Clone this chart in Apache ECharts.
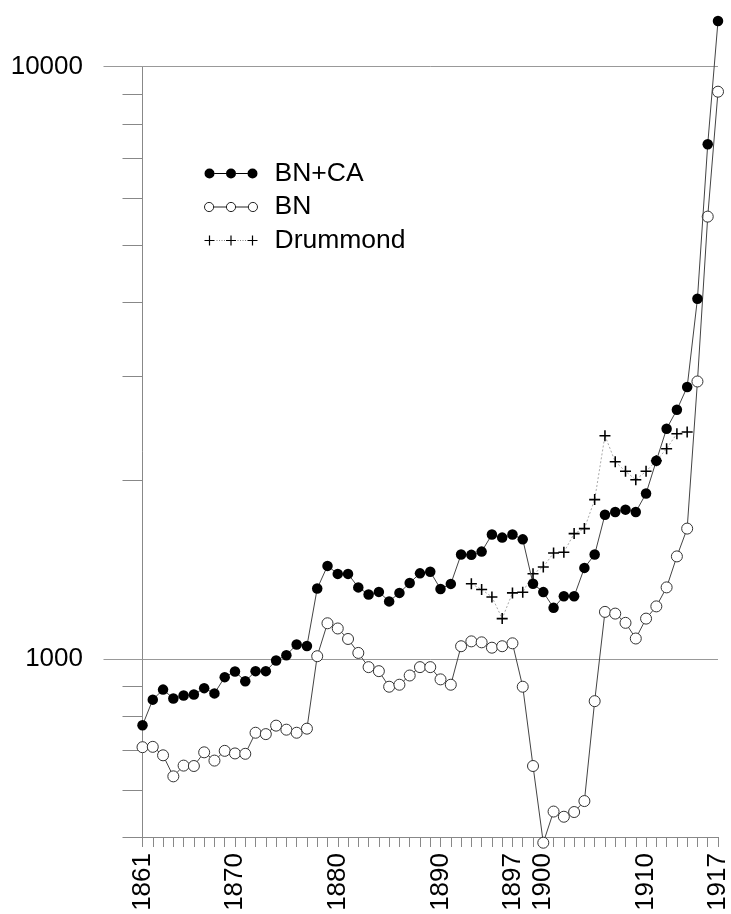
<!DOCTYPE html>
<html>
<head>
<meta charset="utf-8">
<script src="https://cdn.jsdelivr.net/npm/echarts@6/dist/echarts.min.js"></script>
<style>
html,body{margin:0;padding:0;background:#fff;}
#chart{width:731px;height:914px;}
</style>
</head>
<body>
<div id="chart"></div>
<script>
const years = ['1861','1862','1863','1864','1865','1866','1867','1868','1869','1870',
  '1871','1872','1873','1874','1875','1876','1877','1878','1879','1880',
  '1881','1882','1883','1884','1885','1886','1887','1888','1889','1890',
  '1891','1892','1893','1894','1895','1896','1897','1898','1899','1900',
  '1901','1902','1903','1904','1905','1906','1907','1908','1909','1910',
  '1911','1912','1913','1914','1915','1916','1917'];

const labelYears = ['1861','1870','1880','1890','1897','1900','1910','1917'];

const bnca = [772, 853, 887, 857, 867, 870, 892, 874, 931, 952,
  916, 953, 953, 993, 1014, 1057, 1051, 1314, 1435, 1391,
  1391, 1320, 1284, 1297, 1250, 1292, 1343, 1394, 1403, 1312,
  1338, 1500, 1498, 1517, 1621, 1602, 1621, 1591, 1339, 1296,
  1219, 1275, 1275, 1424, 1500, 1751, 1770, 1786, 1770, 1902,
  2160, 2447, 2633, 2877, 4055, 7396, 11944];

const bn = [709, 710, 687, 633, 660, 659, 695, 673, 699, 692,
  691, 750, 746, 771, 759, 750, 762, 1010, 1148, 1125,
  1080, 1023, 968, 953, 897, 904, 937, 968, 968, 923,
  904, 1050, 1070, 1066, 1044, 1050, 1062, 897, 659, 489,
  552, 541, 551, 575, 848, 1200, 1192, 1150, 1082, 1169,
  1226, 1320, 1489, 1659, 2940, 5582, 9074];

const drummondYears = ['1893','1894','1895','1896','1897','1898','1899','1900','1901','1902',
  '1903','1904','1905','1906','1907','1908','1909','1910','1911','1912','1913','1914'];
const drummond = [1339, 1309, 1272, 1169, 1292, 1295, 1392, 1429, 1509, 1513,
  1627, 1659, 1857, 2381, 2152, 2073, 2006, 2073, 2160, 2264, 2400, 2415];

const majorTicks = [1000, 10000];
const minorTicks = [500, 600, 700, 800, 900, 2000, 3000, 4000, 5000, 6000, 7000, 8000, 9000];

const plusPath = 'path://M4.3,0H5.7V4.3H10V5.7H5.7V10H4.3V5.7H0V4.3H4.3Z';
const legendFilled = 'path://M0,5a5,5 0 1,0 10,0a5,5 0 1,0 -10,0Z M21.5,5a5,5 0 1,0 10,0a5,5 0 1,0 -10,0Z M43,5a5,5 0 1,0 10,0a5,5 0 1,0 -10,0Z M10,4.5H21.5V5.5H10Z M31.5,4.5H43V5.5H31.5Z';
const legendOpen = 'path://M0.5,5a4.5,4.5 0 1,0 9,0a4.5,4.5 0 1,0 -9,0Z M22,5a4.5,4.5 0 1,0 9,0a4.5,4.5 0 1,0 -9,0Z M43.5,5a4.5,4.5 0 1,0 9,0a4.5,4.5 0 1,0 -9,0Z M9.5,5H22 M31,5H43.5';
const legendPlus = 'path://M0,4.4H10V5.6H0Z M4.4,0H5.6V10H4.4Z M21.5,4.4H31.5V5.6H21.5Z M25.9,0H27.1V10H25.9Z M43,4.4H53V5.6H43Z M47.4,0H48.6V10H47.4Z M12,4.7H13V5.3H12Z M14.5,4.7H15.5V5.3H14.5Z M17,4.7H18V5.3H17Z M19.5,4.7H20.5V5.3H19.5Z M33,4.7H34V5.3H33Z M35.5,4.7H36.5V5.3H35.5Z M38,4.7H39V5.3H38Z M40.5,4.7H41.5V5.3H40.5Z';

const FONT = 'Liberation Sans, Arial, sans-serif';
const chart = echarts.init(document.getElementById('chart'), null, {renderer: 'canvas'});

chart.setOption({
  animation: false,
  backgroundColor: '#fff',
  textStyle: {fontFamily: FONT},
  grid: {left: 142.5, right: 10, top: 66.7, bottom: 77, containLabel: false},
  legend: {
    orient: 'vertical',
    left: 199,
    top: 155,
    itemWidth: 53,
    itemHeight: 10,
    itemGap: 6.5,
    selectedMode: false,
    textStyle: {fontSize: 26.5, color: '#000', fontFamily: FONT, padding: [0, 0, 0, 12]},
    data: [
      {name: 'BN+CA', icon: legendFilled, itemStyle: {color: '#000', borderWidth: 0}},
      {name: 'BN', icon: legendOpen, itemStyle: {color: '#fff', borderColor: '#222', borderWidth: 1}},
      {name: 'Drummond', icon: legendPlus, itemStyle: {color: '#000', borderWidth: 0}}
    ]
  },
  xAxis: {
    type: 'category',
    data: years,
    boundaryGap: false,
    axisLine: {show: true, lineStyle: {color: '#888', width: 1}},
    axisTick: {show: true, interval: 0, length: 10, lineStyle: {color: '#888', width: 1}},
    axisLabel: {
      interval: function (i, v) { return labelYears.indexOf(v) >= 0; },
      rotate: 90,
      fontSize: 26,
      color: '#000',
      margin: 16,
      fontFamily: FONT
    },
    splitLine: {show: false}
  },
  yAxis: [
    {
      type: 'log',
      logBase: 10,
      min: 500,
      max: 10000,
      position: 'left',
      axisLine: {show: true, lineStyle: {color: '#888', width: 1}},
      axisTick: {show: true, customValues: majorTicks, length: 39, lineStyle: {color: '#999', width: 1}},
      axisLabel: {
        show: true, customValues: majorTicks, fontSize: 26, color: '#000', margin: 59.5, fontFamily: FONT,
        formatter: function (v) { return String(Math.round(v)); }
      },
      splitLine: {show: true, lineStyle: {color: '#999', width: 1}}
    },
    {
      type: 'log',
      logBase: 10,
      min: 500,
      max: 10000,
      position: 'left',
      axisLine: {show: false},
      axisTick: {show: true, customValues: minorTicks, length: 20, lineStyle: {color: '#888', width: 1}},
      axisLabel: {show: false},
      splitLine: {show: false}
    }
  ],
  series: [
    {
      name: 'Drummond',
      type: 'line',
      data: drummondYears.map(function (y, i) { return [y, drummond[i]]; }),
      symbol: plusPath,
      symbolSize: 11,
      showAllSymbol: true,
      clip: false,
      itemStyle: {color: '#000'},
      lineStyle: {color: '#aaa', width: 1, type: [2, 2]},
      z: 2
    },
    {
      name: 'BN',
      type: 'line',
      data: bn,
      symbol: 'circle',
      symbolSize: 11,
      showAllSymbol: true,
      clip: false,
      itemStyle: {color: '#fff', borderColor: '#333', borderWidth: 1},
      lineStyle: {color: '#444', width: 1},
      z: 3
    },
    {
      name: 'BN+CA',
      type: 'line',
      data: bnca,
      symbol: 'circle',
      symbolSize: 10.5,
      showAllSymbol: true,
      clip: false,
      itemStyle: {color: '#000'},
      lineStyle: {color: '#444', width: 1},
      z: 4
    }
  ]
});
</script>
</body>
</html>
